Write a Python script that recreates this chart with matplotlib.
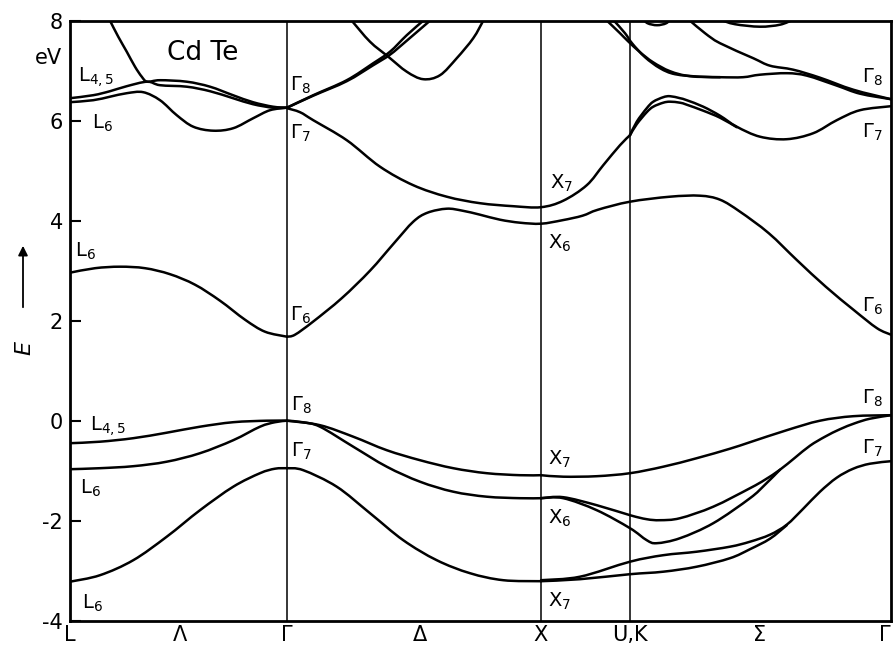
import numpy as np
import matplotlib
matplotlib.use("Agg")
import matplotlib.pyplot as plt
from matplotlib.path import Path
from matplotlib.patches import PathPatch

plt.rcParams['font.family'] = ['Liberation Sans Narrow', 'DejaVu Sans']
plt.rcParams['mathtext.fontset'] = 'dejavusans'

# high-symmetry points along the path (k in path units)
k_sym = [0.0, 0.868, 1.884, 2.24, 3.284]
k_lab_pos = [0.0, 0.44, 0.868, 1.40, 1.884, 2.24, 2.76, 3.284]
k_lab = ['L', 'Λ', 'Γ', 'Δ', 'X', 'U,K', 'Σ', 'Γ']
e_ticks = [-4, -2, 0, 2, 4, 6, 8]

# --- conduction bands, L - Gamma ---
cb_lg_steep_k = [0.16, 0.193, 0.227, 0.26, 0.287, 0.309, 0.36, 0.467, 0.56, 0.652, 0.732, 0.812, 0.868]
cb_lg_steep_e = [8.0, 7.68, 7.38, 7.08, 6.88, 6.78, 6.81, 6.78, 6.68, 6.51, 6.37, 6.28, 6.26]
cb_lg_up_k = [0.0, 0.093, 0.16, 0.227, 0.309, 0.36, 0.467, 0.56, 0.652, 0.732, 0.812, 0.868]
cb_lg_up_e = [6.45, 6.51, 6.59, 6.69, 6.78, 6.71, 6.68, 6.59, 6.45, 6.33, 6.26, 6.26]
cb_lg_dip_k = [0.0, 0.093, 0.16, 0.227, 0.293, 0.36, 0.427, 0.493, 0.573, 0.653, 0.733, 0.8, 0.868]
cb_lg_dip_e = [6.37, 6.41, 6.48, 6.55, 6.57, 6.41, 6.11, 5.88, 5.80, 5.85, 6.05, 6.21, 6.26]
cb_l6_k = [0.0, 0.1, 0.2, 0.3, 0.4, 0.5, 0.6, 0.7, 0.78, 0.868]
cb_l6_e = [2.96, 3.05, 3.08, 3.05, 2.93, 2.72, 2.40, 2.02, 1.78, 1.68]

# --- conduction bands, Gamma - X - U,K - Gamma ---
cb_g6_k = [0.868, 0.9, 0.972, 1.087, 1.2, 1.296, 1.373, 1.43, 1.507, 1.57, 1.64, 1.72, 1.8, 1.884,
           1.97, 2.05, 2.112, 2.24, 2.4, 2.52, 2.6, 2.68, 2.795, 2.908, 3.023, 3.136, 3.228, 3.284]
cb_g6_e = [1.68, 1.72, 1.98, 2.45, 3.0, 3.55, 3.98, 4.16, 4.24, 4.2, 4.12, 4.02, 3.96, 3.94,
           4.01, 4.1, 4.22, 4.38, 4.48, 4.5, 4.42, 4.18, 3.75, 3.21, 2.68, 2.21, 1.85, 1.72]
cb_g7_k = [0.868, 0.92, 0.973, 1.107, 1.24, 1.373, 1.507, 1.64, 1.773, 1.884, 1.973, 2.067, 2.133, 2.2, 2.24]
cb_g7_e = [6.25, 6.17, 6.01, 5.61, 5.08, 4.71, 4.48, 4.35, 4.29, 4.27, 4.40, 4.71, 5.11, 5.51, 5.71]
cb_g8a_k = [0.868, 0.973, 1.107, 1.213, 1.28, 1.347, 1.413]
cb_g8a_e = [6.26, 6.51, 6.81, 7.15, 7.38, 7.71, 8.0]
cb_g8b_k = [0.868, 0.973, 1.107, 1.213, 1.28, 1.347, 1.44]
cb_g8b_e = [6.26, 6.50, 6.79, 7.11, 7.32, 7.60, 8.0]
cb_v_k = [1.127, 1.2, 1.273, 1.347, 1.413, 1.48, 1.547, 1.613, 1.653]
cb_v_e = [8.0, 7.58, 7.28, 6.98, 6.83, 6.91, 7.25, 7.65, 8.0]

# U,K - Gamma upper bands
cb_kg7a_k = [2.24, 2.267, 2.307, 2.333, 2.373, 2.4, 2.44, 2.467, 2.533, 2.6, 2.667, 2.76, 2.867, 2.973, 3.067, 3.16, 3.284]
cb_kg7a_e = [5.71, 5.98, 6.25, 6.38, 6.47, 6.49, 6.45, 6.41, 6.28, 6.10, 5.88, 5.68, 5.63, 5.75, 6.01, 6.21, 6.29]
cb_kg7b_k = [2.24, 2.267, 2.307, 2.333, 2.373, 2.4, 2.44, 2.467, 2.533, 2.6, 2.667]
cb_kg7b_e = [5.71, 5.93, 6.17, 6.28, 6.36, 6.38, 6.36, 6.32, 6.20, 6.06, 5.87]
cb_kg8a_k = [2.148, 2.2, 2.232, 2.28, 2.332, 2.4, 2.48, 2.6, 2.692, 2.76, 2.868, 2.948, 3.068, 3.16, 3.284]
cb_kg8a_e = [8.0, 7.75, 7.59, 7.37, 7.17, 6.99, 6.89, 6.87, 6.87, 6.92, 6.95, 6.90, 6.70, 6.54, 6.43]
cb_kg8b_k = [2.176, 2.22, 2.248, 2.3, 2.36, 2.42, 2.52, 2.6]
cb_kg8b_e = [8.0, 7.75, 7.55, 7.27, 7.05, 6.93, 6.88, 6.87]
cb_kg8c_k = [2.48, 2.54, 2.6, 2.733, 2.8, 2.893, 3.0, 3.133, 3.284]
cb_kg8c_e = [8.0, 7.75, 7.55, 7.25, 7.10, 7.02, 6.86, 6.62, 6.43]
cb_top1_k = [2.29, 2.31, 2.348, 2.385, 2.405]
cb_top1_e = [8.05, 7.95, 7.91, 7.95, 8.05]
cb_top2_k = [2.6, 2.66, 2.76, 2.84, 2.893]
cb_top2_e = [8.02, 7.93, 7.88, 7.92, 8.02]

# --- valence bands ---
vb_lg1_k = [0.0, 0.12, 0.253, 0.387, 0.52, 0.653, 0.787, 0.868]
vb_lg1_e = [-0.45, -0.42, -0.35, -0.24, -0.12, -0.03, 0.0, 0.0]
vb_lg2_k = [0.0, 0.12, 0.253, 0.387, 0.52, 0.653, 0.76, 0.82, 0.868]
vb_lg2_e = [-0.97, -0.95, -0.91, -0.82, -0.65, -0.39, -0.12, -0.03, 0.0]
vb_lg3_k = [0.0, 0.12, 0.253, 0.387, 0.52, 0.653, 0.76, 0.82, 0.868]
vb_lg3_e = [-3.22, -3.09, -2.79, -2.32, -1.79, -1.32, -1.05, -0.96, -0.95]

vb_gx1_k = [0.868, 1.0, 1.133, 1.267, 1.4, 1.533, 1.667, 1.8, 1.884]
vb_gx1_e = [0.0, -0.09, -0.32, -0.59, -0.79, -0.95, -1.05, -1.09, -1.09]
vb_gx2_k = [0.868, 0.93, 1.0, 1.133, 1.267, 1.4, 1.533, 1.667, 1.8, 1.884]
vb_gx2_e = [0.0, -0.03, -0.12, -0.52, -0.92, -1.22, -1.42, -1.52, -1.55, -1.55]
vb_gx3_k = [0.868, 0.933, 1.067, 1.2, 1.333, 1.467, 1.6, 1.733, 1.884]
vb_gx3_e = [-0.95, -0.99, -1.32, -1.85, -2.39, -2.79, -3.05, -3.19, -3.21]

vb_xg1_k = [1.884, 1.973, 2.107, 2.24, 2.373, 2.507, 2.64, 2.72, 2.867, 3.0, 3.133, 3.284]
vb_xg1_e = [-1.09, -1.12, -1.11, -1.05, -0.92, -0.75, -0.56, -0.43, -0.19, 0.0, 0.09, 0.11]
vb_xg2_k = [1.884, 1.973, 2.107, 2.24, 2.307, 2.36, 2.44, 2.573, 2.72, 2.78, 2.84, 2.9, 2.96,
            3.02, 3.08, 3.14, 3.2, 3.284]
vb_xg2_e = [-1.55, -1.53, -1.69, -1.89, -1.97, -1.99, -1.95, -1.72, -1.35, -1.18, -0.98, -0.74, -0.50,
            -0.32, -0.17, -0.05, 0.04, 0.11]
vb_xg3_k = [1.884, 1.973, 2.107, 2.24, 2.307, 2.347, 2.44, 2.573, 2.72, 2.78, 2.84]
vb_xg3_e = [-1.55, -1.55, -1.79, -2.15, -2.39, -2.45, -2.35, -2.05, -1.55, -1.28, -0.98]
vb_xg4_k = [1.884, 2.04, 2.24, 2.373, 2.507, 2.64, 2.72, 2.8, 2.867, 2.933, 3.0, 3.067, 3.133, 3.2, 3.284]
vb_xg4_e = [-3.19, -3.12, -2.82, -2.69, -2.62, -2.52, -2.42, -2.28, -2.08, -1.76, -1.42, -1.14, -0.96, -0.86, -0.81]
vb_xg5_k = [1.884, 2.04, 2.24, 2.373, 2.507, 2.64, 2.72, 2.8, 2.867]
vb_xg5_e = [-3.21, -3.17, -3.07, -3.02, -2.92, -2.75, -2.57, -2.36, -2.09]

bands = [
    (cb_lg_steep_k, cb_lg_steep_e), (cb_lg_up_k, cb_lg_up_e), (cb_lg_dip_k, cb_lg_dip_e),
    (cb_l6_k, cb_l6_e), (cb_g6_k, cb_g6_e), (cb_g7_k, cb_g7_e),
    (cb_g8a_k, cb_g8a_e), (cb_g8b_k, cb_g8b_e), (cb_v_k, cb_v_e),
    (cb_kg7a_k, cb_kg7a_e), (cb_kg7b_k, cb_kg7b_e),
    (cb_kg8a_k, cb_kg8a_e), (cb_kg8b_k, cb_kg8b_e), (cb_kg8c_k, cb_kg8c_e),
    (cb_top1_k, cb_top1_e), (cb_top2_k, cb_top2_e),
    (vb_lg1_k, vb_lg1_e), (vb_lg2_k, vb_lg2_e), (vb_lg3_k, vb_lg3_e),
    (vb_gx1_k, vb_gx1_e), (vb_gx2_k, vb_gx2_e), (vb_gx3_k, vb_gx3_e),
    (vb_xg1_k, vb_xg1_e), (vb_xg2_k, vb_xg2_e), (vb_xg3_k, vb_xg3_e),
    (vb_xg4_k, vb_xg4_e), (vb_xg5_k, vb_xg5_e),
]

# state labels: (text, k, E)
labels = [
    (r'L$_{4,5}$', 0.032, 6.87), (r'L$_6$', 0.088, 5.95), (r'L$_6$', 0.02, 3.39),
    (r'L$_{4,5}$', 0.08, -0.10), (r'L$_6$', 0.04, -1.35), (r'L$_6$', 0.048, -3.65),
    (r'$\Gamma_8$', 0.88, 6.71), (r'$\Gamma_7$', 0.88, 5.75), (r'$\Gamma_6$', 0.88, 2.11),
    (r'$\Gamma_8$', 0.884, 0.31), (r'$\Gamma_7$', 0.884, -0.61),
    (r'X$_7$', 1.92, 4.75), (r'X$_6$', 1.912, 3.55), (r'X$_7$', 1.912, -0.78),
    (r'X$_6$', 1.912, -1.95), (r'X$_7$', 1.912, -3.61),
    (r'$\Gamma_8$', 3.168, 6.87), (r'$\Gamma_7$', 3.168, 5.77), (r'$\Gamma_6$', 3.168, 2.29),
    (r'$\Gamma_8$', 3.168, 0.45), (r'$\Gamma_7$', 3.168, -0.55),
]


def smooth_path(k, e):
    # Catmull-Rom through the read points, drawn as cubic Bezier pieces
    pts = np.column_stack([k, e]).astype(float)
    verts = [pts[0]]
    codes = [Path.MOVETO]
    n = len(pts)
    for i in range(n - 1):
        p0 = pts[i - 1] if i > 0 else pts[i]
        p1 = pts[i]
        p2 = pts[i + 1]
        p3 = pts[i + 2] if i + 2 < n else pts[i + 1]
        verts += [p1 + (p2 - p0) / 6.0, p2 - (p3 - p1) / 6.0, p2]
        codes += [Path.CURVE4] * 3
    return Path(verts, codes)


fig = plt.figure(figsize=(8.93, 6.53), dpi=100)
ax = fig.add_axes([70 / 893, 32.3 / 653, 821 / 893, 600 / 653])

for k, e in bands:
    ax.add_patch(PathPatch(smooth_path(k, e), fill=False, lw=1.8, color='black',
                           capstyle='round', joinstyle='round'))

for ks in k_sym[1:4]:
    ax.axvline(ks, color='black', lw=1.1)

ax.set_xlim(k_sym[0], k_sym[-1])
ax.set_ylim(-4, 8)

for s in ax.spines.values():
    s.set_linewidth(2.0)

ax.set_yticks(e_ticks)
ax.set_yticklabels([str(v) for v in e_ticks], fontsize=15)
ax.tick_params(axis='y', direction='in', length=8, width=1.5, pad=5)
ax.set_xticks(k_lab_pos)
ax.set_xticklabels(k_lab, fontsize=15)
ax.tick_params(axis='x', length=0, pad=3)
ax.get_xticklabels()[-1].set_horizontalalignment('right')

for txt, k, e in labels:
    ax.text(k, e, txt, fontsize=14, ha='left', va='center')

ax.text(0.532, 7.35, 'Cd Te', fontsize=19, ha='center', va='center')
ax.text(-0.088, 7.25, 'eV', fontsize=15, ha='center', va='center', clip_on=False)

# energy axis label with arrow
ax.annotate('', xy=(23, 653 - 243), xytext=(23, 653 - 310), xycoords='figure pixels',
            arrowprops=dict(arrowstyle='-|>', color='black', lw=1.3, mutation_scale=14))
fig.text(24 / 893, (653 - 348) / 653, 'E', fontsize=16, style='italic', rotation=90,
         ha='center', va='center')

fig.savefig('out.png', dpi=100)
